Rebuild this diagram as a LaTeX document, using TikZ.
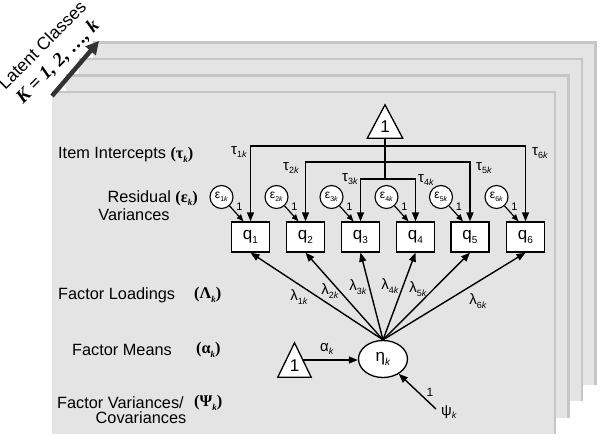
\documentclass[tikz,border=0pt]{standalone}
\usepackage{fontspec}
\setmainfont{Liberation Sans}
\newfontfamily\grb{Liberation Serif}
\usetikzlibrary{arrows.meta,calc,shapes.geometric}
\newcommand\lo[2][9]{\raisebox{-0.45ex}{\fontsize{#1}{#1}\selectfont #2}}
\newcommand\ki{\textit{k}}
\newcommand\bg[1]{{\grb\bfseries #1}}
\definecolor{sheetfill}{HTML}{E4E4E4}
\definecolor{sheetedge}{HTML}{C6C6C6}
\definecolor{arrowgray}{HTML}{333333}
\tikzset{
  sheet/.style={fill=sheetfill},
  sheetline/.style={draw=sheetedge, line width=2.5pt},
  lab/.style={inner sep=0pt, font=\fontsize{16.3}{19}\selectfont},
  box/.style={draw, fill=white, line width=1.3pt, minimum width=38pt, minimum height=30pt, inner sep=0pt, font=\fontsize{17}{17}\selectfont},
  res/.style={draw, fill=white, circle, line width=1.1pt, minimum size=23pt, inner sep=0pt, font=\fontsize{12}{12}\selectfont},
  conn/.style={line width=1.4pt, -{Triangle[length=9pt,width=7pt]}},
  sconn/.style={line width=1.2pt, -{Triangle[length=7pt,width=5.5pt]}},
  plain/.style={line width=1.4pt},
  par/.style={inner sep=0pt, font=\fontsize{15}{15}\selectfont},
  one/.style={inner sep=0pt, font=\fontsize{11}{11}\selectfont},
  tri/.style={inner sep=0pt},
}
\begin{document}
\begin{tikzpicture}[x=1pt,y=-1pt]
\useasboundingbox (0,0) rectangle (600,442);
\fill[white] (0,0) rectangle (600,442);
% stacked sheets
\foreach \i in {3,2,1,0} {
  \fill[sheet] ({52+13.5*\i},{92-16.5*\i}) rectangle ({555+13.5*\i},{434-16.5*\i});
  \draw[sheetline] ({52+13.5*\i},{92-16.5*\i}) -- ({555+13.5*\i},{92-16.5*\i}) -- ({555+13.5*\i},{434-16.5*\i});
}
% latent classes arrow
\coordinate (la) at (52,96);
\coordinate (lb) at (99,41);
\draw[line width=4.5pt, draw=arrowgray, -{Triangle[length=13pt,width=13pt,fill=arrowgray]}] (la) -- (lb);
\node[rotate=45, inner sep=0pt, font=\fontsize{17.5}{17.5}\selectfont] (lc) at (42,45) {Latent Classes};
\node[rotate=45, inner sep=0pt, font=\grb\bfseries\itshape\fontsize{19}{19}\selectfont] (kk) at (58,62) {K = 1, 2, \ldots, k};

% left labels
\node[lab, anchor=west] (l1) at (58,155) {Item Intercepts \bg{(τ\lo{\ki})}};
\node[lab, anchor=east] (l2) at (198,198) {Residual \bg{(ε\lo{\ki})}};
\node[lab] (l2b) at (134,215) {Variances};
\node[lab, anchor=west] (l3) at (58,295) {Factor Loadings};
\node[lab, anchor=west] (l3b) at (194,295) {\bg{(Λ\lo{\ki})}};
\node[lab, anchor=west] (l4) at (72,350) {Factor Means};
\node[lab, anchor=west] (l4b) at (196,350) {\bg{(α\lo{\ki})}};
\node[lab, anchor=west] (l5) at (57,403) {Factor Variances/};
\node[lab, anchor=west] (l5b) at (194,403) {\bg{(Ψ\lo{\ki})}};
\node[lab] (l5c) at (141,418) {Covariances};

% top triangle
\node[tri, minimum width=35pt, minimum height=33pt] (T) at (385,121.5) {};
\draw[line width=1.3pt, fill=white] (T.north) -- (T.south east) -- (T.south west) -- cycle;
\node[inner sep=0pt, font=\fontsize{17}{17}\selectfont] (T1) at (385,127) {1};

% boxes and residuals
\foreach \n/\x in {1/250.5,2/305.5,3/360.5,4/415.5,5/470,6/525.5} {
  \node[box] (q\n) at (\x,237) {q\lo[10]{\n}};
  \node[res] (e\n) at ({\x-29},197) {ε\lo[7]{\n\ki}};
  \draw[sconn] (e\n) -- ($(q\n.north)+(-7,0)$);
  \node[one] (o\n) at ({\x-11},207) {1};
}

% intercept tree
\coordinate (b1) at (385,146);
\coordinate (b2) at (385,162);
\coordinate (b3) at (385,179);
\draw[plain] (T.south) -- (b3);
\draw[conn] (b1) -| (q1.north);
\draw[conn] (b1) -| (q6.north);
\draw[conn] (b2) -| (q2.north);
\draw[conn] (b2) -| (q5.north);
\draw[conn] (b3) -| (q3.north);
\draw[conn] (b3) -| (q4.north);
\node[par] (t1) at (239,152) {τ\lo{1\ki}};
\node[par] (t6) at (540,153) {τ\lo{6\ki}};
\node[par] (t2) at (291,168) {τ\lo{2\ki}};
\node[par] (t5) at (484,168) {τ\lo{5\ki}};
\node[par] (t3) at (350,179) {τ\lo{3\ki}};
\node[par] (t4) at (426,180) {τ\lo{4\ki}};

% factor
\node[draw, fill=white, ellipse, line width=1.3pt, minimum width=49pt, minimum height=37pt, inner sep=0pt, font=\fontsize{17}{17}\selectfont] (eta) at (383,359) {η\lo[10]{\ki}};
\foreach \n in {1,...,6} {
  \draw[conn] (eta.north) -- (q\n.south);
}
\node[par] (m1) at (299,297) {λ\lo{1\ki}};
\node[par] (m2) at (330,291) {λ\lo{2\ki}};
\node[par] (m3) at (358,287) {λ\lo{3\ki}};
\node[par] (m4) at (390,286) {λ\lo{4\ki}};
\node[par] (m5) at (418,289) {λ\lo{5\ki}};
\node[par] (m6) at (478,301) {λ\lo{6\ki}};

% mean triangle
\node[tri, minimum width=33pt, minimum height=34pt] (T2) at (294.5,360) {};
\draw[line width=1.3pt, fill=white] (T2.north) -- (T2.south east) -- (T2.south west) -- cycle;
\node[inner sep=0pt, font=\fontsize{17}{17}\selectfont] (T21) at (294.5,366) {1};
\coordinate (t2r) at ($(T2.north)!0.5!(T2.south east)$);
\draw[conn] (t2r) -- (t2r -| eta.west);
\node[par] (al) at (327,349) {α\lo{\ki}};

% disturbance
\coordinate (psi) at (436,409);
\draw[conn] (psi) -- (eta);
\node[one, font=\fontsize{12}{12}\selectfont] (op) at (430,392) {1};
\node[par] (ps) at (449,412) {ψ\lo{\ki}};
\end{tikzpicture}
\end{document}
